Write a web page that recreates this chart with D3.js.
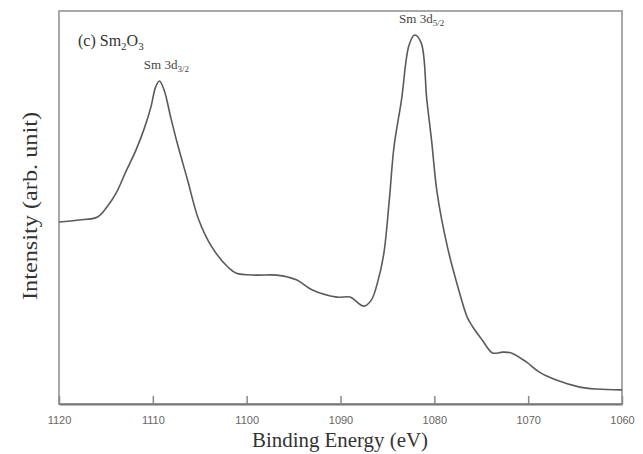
<!DOCTYPE html>
<html>
<head>
<meta charset="utf-8">
<script src="https://cdn.jsdelivr.net/npm/d3@7"></script>
<style>
  body { margin: 0; background: #fff; }
  svg { display: block; }
</style>
</head>
<body>
<div id="chart"></div>
<script>

// Sm2O3 XPS spectrum, Sm 3d region
const energy = [1120, 1117.9, 1115.9, 1114.9, 1113.9, 1112.9, 1111.8, 1110.9, 1110.2, 1109.7, 1109.3,
    1108.8, 1108.1, 1107.4, 1106.3, 1105.1, 1103.7, 1101.9, 1101.1, 1099.0, 1096.8, 1094.7, 1093.0,
    1090.4, 1089.0, 1087.5, 1086.7, 1086.1, 1085.4, 1084.8, 1084.3, 1083.5, 1082.7, 1082.1, 1081.4,
    1080.8, 1080.3, 1079.7, 1078.6, 1077.3, 1076.5, 1075.9, 1074.9, 1073.8, 1072.7, 1071.8, 1070.2,
    1068.8, 1067.0, 1064.5, 1062.7, 1060.0];
const intensity = [46.3, 46.8, 47.6, 50.1, 53.7, 59.0, 64.6, 70.2, 75.6, 80.7, 82.2,
    79.9, 73.0, 66.4, 57.0, 46.8, 39.9, 34.6, 33.3, 32.8, 32.8, 31.6, 29.0,
    27.2, 27.2, 24.9, 26.5, 30.5, 38.0, 51.9, 65.4, 77.4, 91.3, 93.9, 91.9,
    77.4, 67.2, 53.7, 39.9, 28.2, 22.1, 19.6, 16.3, 13.0, 13.2, 13.0, 10.7,
    8.1, 6.1, 4.3, 3.8, 3.6];
const xTicks = [1120, 1110, 1100, 1090, 1080, 1070, 1060];

const data = energy.map((e, i) => ({ e: e, v: intensity[i] }));

const W = 643, H = 454;
const m = { left: 59, right: 622, top: 11, bottom: 404 };

const svg = d3.select("#chart").append("svg")
    .attr("width", W)
    .attr("height", H);

const x = d3.scaleLinear().domain([1120, 1060]).range([m.left, m.right]);
const y = d3.scaleLinear().domain([0, 100]).range([m.bottom, m.top]);

// frame
svg.append("rect")
    .attr("x", m.left).attr("y", m.top)
    .attr("width", m.right - m.left).attr("height", m.bottom - m.top)
    .attr("fill", "none")
    .attr("stroke", "#a8a8a8")
    .attr("stroke-width", 2);

// bottom axis, ticks pointing inward
svg.append("g")
    .attr("transform", `translate(0,${m.bottom})`)
    .call(d3.axisBottom(x).tickValues(xTicks).tickSizeInner(-8).tickSizeOuter(0).tickPadding(12)
        .tickFormat(d3.format("d")))
    .call(g => g.select(".domain").attr("stroke", "#777").attr("stroke-width", 2))
    .call(g => g.selectAll(".tick line").attr("stroke", "#888").attr("stroke-width", 1.5))
    .call(g => g.selectAll("text")
        .attr("fill", "#666")
        .style("font-family", "'Liberation Sans', Arial, sans-serif")
        .style("font-size", "11px"));

// spectrum
const line = d3.line()
    .x(d => x(d.e))
    .y(d => y(d.v))
    .curve(d3.curveCatmullRom);

svg.append("path")
    .datum(data)
    .attr("fill", "none")
    .attr("stroke", "#5a5a5a")
    .attr("stroke-width", 1.6)
    .attr("d", line);

const serif = "'Liberation Serif', 'Times New Roman', serif";

// axis titles
svg.append("text")
    .attr("x", 340)
    .attr("y", 447)
    .attr("text-anchor", "middle")
    .attr("textLength", 176)
    .attr("lengthAdjust", "spacingAndGlyphs")
    .style("font-family", serif)
    .style("font-size", "20px")
    .attr("fill", "#333")
    .text("Binding Energy (eV)");

svg.append("text")
    .attr("transform", "translate(37,206) rotate(-90)")
    .attr("text-anchor", "middle")
    .attr("textLength", 188)
    .attr("lengthAdjust", "spacingAndGlyphs")
    .style("font-family", serif)
    .style("font-size", "20px")
    .attr("fill", "#333")
    .text("Intensity (arb. unit)");

// panel label
const lab = svg.append("text")
    .attr("x", 78).attr("y", 46)
    .style("font-family", serif)
    .style("font-size", "16px")
    .attr("fill", "#333");
lab.append("tspan").text("(c) Sm");
lab.append("tspan").attr("dy", 4).style("font-size", "11px").text("2");
lab.append("tspan").attr("dy", -4).text("O");
lab.append("tspan").attr("dy", 4).style("font-size", "11px").text("3");

// peak labels
function peakLabel(e, v, sub) {
    const t = svg.append("text")
        .attr("x", x(e) + 7).attr("y", y(v) - 12)
        .attr("text-anchor", "middle")
        .style("font-family", serif)
        .style("font-size", "13px")
        .attr("fill", "#444");
    t.append("tspan").text("Sm 3d");
    t.append("tspan").attr("dy", 3).style("font-size", "9px").text(sub);
}
peakLabel(1109.3, 82.2, "3/2");
peakLabel(1082.1, 93.9, "5/2");

</script>
</body>
</html>
